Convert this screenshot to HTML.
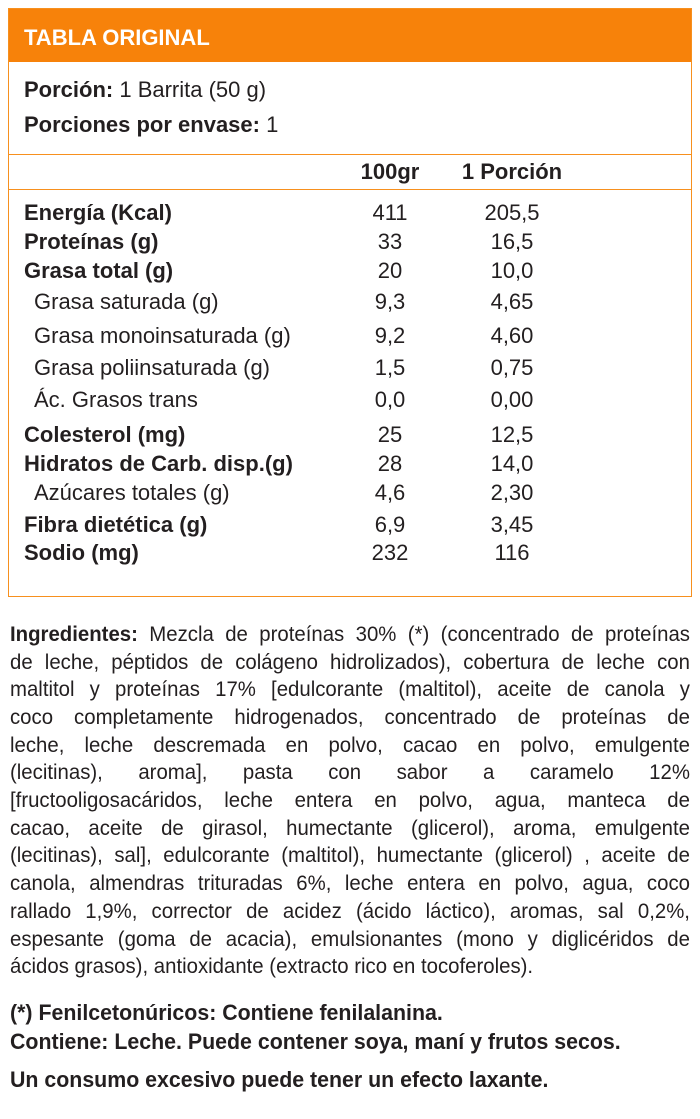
<!DOCTYPE html>
<html><head><meta charset="utf-8"><style>
body{margin:0;width:700px;height:1119px;background:#fff;position:relative;overflow:hidden;font-family:"Liberation Sans",sans-serif;color:#231f20}
.box{position:absolute;left:8px;top:8px;width:684px;height:589px;border:1.5px solid #f7901e;box-sizing:border-box}
.hd{position:absolute;left:8px;top:8px;width:684px;height:54px;background:#f7820a}
.hl{position:absolute;left:8px;width:684px;height:0;border-top:1.5px solid #f7901e}
.t{position:absolute;white-space:nowrap;transform-origin:left center;transform:scaleX(1.0);line-height:24px;font-size:22px}
.f{transform:scaleX(.97)}
.c{position:absolute;white-space:nowrap;width:120px;text-align:center;line-height:24px;font-size:22px}
b{font-weight:bold}
.ing{position:absolute;left:10px;width:701px;transform-origin:left center;transform:scaleX(.97);font-size:21px;line-height:24px;text-align:justify;text-align-last:justify;white-space:nowrap}
.ing.l{text-align-last:left}
</style></head><body>
<div class="hd"></div>
<div class="box"></div>
<div class="hl" style="top:154px"></div>
<div class="hl" style="top:189px"></div>
<div class="t" style="left:24px;top:26px;color:#fff;font-weight:bold;font-size:22px">TABLA ORIGINAL</div>
<div class="t" style="left:24px;top:78px"><b>Porción:</b> 1 Barrita (50 g)</div>
<div class="t" style="left:24px;top:113px"><b>Porciones por envase:</b> 1</div>
<div class="c" style="left:330px;top:160px"><b>100gr</b></div>
<div class="c" style="left:452px;top:160px"><b>1 Porción</b></div>

<div class="t" style="left:24px;top:201px"><b>Energía (Kcal)</b></div><div class="c" style="left:330px;top:201px">411</div><div class="c" style="left:452px;top:201px">205,5</div>
<div class="t" style="left:24px;top:230px"><b>Proteínas (g)</b></div><div class="c" style="left:330px;top:230px">33</div><div class="c" style="left:452px;top:230px">16,5</div>
<div class="t" style="left:24px;top:259px"><b>Grasa total (g)</b></div><div class="c" style="left:330px;top:259px">20</div><div class="c" style="left:452px;top:259px">10,0</div>
<div class="t" style="left:34px;top:290px">Grasa saturada (g)</div><div class="c" style="left:330px;top:290px">9,3</div><div class="c" style="left:452px;top:290px">4,65</div>
<div class="t" style="left:34px;top:324px">Grasa monoinsaturada (g)</div><div class="c" style="left:330px;top:324px">9,2</div><div class="c" style="left:452px;top:324px">4,60</div>
<div class="t" style="left:34px;top:356px">Grasa poliinsaturada (g)</div><div class="c" style="left:330px;top:356px">1,5</div><div class="c" style="left:452px;top:356px">0,75</div>
<div class="t" style="left:34px;top:388px">Ác. Grasos trans</div><div class="c" style="left:330px;top:388px">0,0</div><div class="c" style="left:452px;top:388px">0,00</div>
<div class="t" style="left:24px;top:423px"><b>Colesterol (mg)</b></div><div class="c" style="left:330px;top:423px">25</div><div class="c" style="left:452px;top:423px">12,5</div>
<div class="t" style="left:24px;top:452px"><b>Hidratos de Carb. disp.(g)</b></div><div class="c" style="left:330px;top:452px">28</div><div class="c" style="left:452px;top:452px">14,0</div>
<div class="t" style="left:34px;top:481px">Azúcares totales (g)</div><div class="c" style="left:330px;top:481px">4,6</div><div class="c" style="left:452px;top:481px">2,30</div>
<div class="t" style="left:24px;top:513px"><b>Fibra dietética (g)</b></div><div class="c" style="left:330px;top:513px">6,9</div><div class="c" style="left:452px;top:513px">3,45</div>
<div class="t" style="left:24px;top:541px"><b>Sodio (mg)</b></div><div class="c" style="left:330px;top:541px">232</div><div class="c" style="left:452px;top:541px">116</div>

<div class="ing" style="top:623px"><b>Ingredientes:</b> Mezcla de proteínas 30% (*) (concentrado de proteínas</div>
<div class="ing" style="top:651px">de leche, péptidos de colágeno hidrolizados), cobertura de leche con</div>
<div class="ing" style="top:678px">maltitol y proteínas 17% [edulcorante (maltitol), aceite de canola y</div>
<div class="ing" style="top:706px">coco completamente hidrogenados, concentrado de proteínas de</div>
<div class="ing" style="top:734px">leche, leche descremada en polvo, cacao en polvo, emulgente</div>
<div class="ing" style="top:761px">(lecitinas), aroma], pasta con sabor a caramelo 12%</div>
<div class="ing" style="top:789px">[fructooligosacáridos, leche entera en polvo, agua, manteca de</div>
<div class="ing" style="top:817px">cacao, aceite de girasol, humectante (glicerol), aroma, emulgente</div>
<div class="ing" style="top:844px">(lecitinas), sal], edulcorante (maltitol), humectante (glicerol) , aceite de</div>
<div class="ing" style="top:872px">canola, almendras trituradas 6%, leche entera en polvo, agua, coco</div>
<div class="ing" style="top:900px">rallado 1,9%, corrector de acidez (ácido láctico), aromas, sal 0,2%,</div>
<div class="ing" style="top:928px">espesante (goma de acacia), emulsionantes (mono y diglicéridos de</div>
<div class="ing l" style="top:955px">ácidos grasos), antioxidante (extracto rico en tocoferoles).</div>

<div class="t f" style="left:10px;top:1001px"><b>(*) Fenilcetonúricos: Contiene fenilalanina.</b></div>
<div class="t f" style="left:10px;top:1030px"><b>Contiene: Leche. Puede contener soya, maní y frutos secos.</b></div>
<div class="t f" style="left:10px;top:1068px"><b>Un consumo excesivo puede tener un efecto laxante.</b></div>
</body></html>
